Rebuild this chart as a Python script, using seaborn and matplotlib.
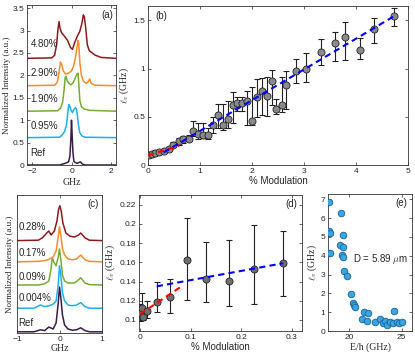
import numpy as np
import pandas as pd
import matplotlib
matplotlib.use("Agg")
import matplotlib.pyplot as plt
import seaborn as sns

# ======================================================
#   Data
# ======================================================

# (a) spectra, x in GHz
a_ref_x = [-2.25, -0.6, -0.3, -0.15, -0.08, -0.03, 0.0, 0.03, 0.07, 0.12, 0.2, 0.3, 0.45, 0.55, 0.7, 2.25]
a_ref_y = [0.0, 0.0, 0.04, 0.07, 0.2, 0.6, 1.0, 0.7, 0.3, 0.08, 0.05, 0.04, 0.07, 0.02, 0.0, 0.0]
a_095_x = [-2.25, -0.6, -0.45, -0.35, -0.25, -0.18, -0.14, -0.08, -0.02, 0.05, 0.12, 0.2, 0.25, 0.3, 0.35, 0.42, 0.55, 0.7, 2.25]
a_095_y = [0.61, 0.62, 0.68, 0.75, 0.9, 1.2, 1.35, 1.3, 1.22, 1.17, 1.24, 1.28, 1.25, 1.1, 0.9, 0.72, 0.64, 0.62, 0.61]
a_190_x = [-2.25, -0.7, -0.55, -0.45, -0.38, -0.32, -0.28, -0.22, -0.12, -0.02, 0.1, 0.2, 0.28, 0.33, 0.37, 0.42, 0.5, 0.65, 0.9, 2.25]
a_190_y = [1.2, 1.21, 1.27, 1.4, 1.65, 1.95, 1.98, 1.88, 1.82, 1.79, 1.85, 1.95, 2.03, 2.05, 1.8, 1.45, 1.3, 1.25, 1.22, 1.2]
a_290_x = [-2.25, -0.85, -0.72, -0.62, -0.56, -0.5, -0.42, -0.3, -0.15, 0.0, 0.1, 0.2, 0.27, 0.33, 0.37, 0.42, 0.5, 0.6, 0.75, 0.85, 0.92, 1.0, 1.2, 2.25]
a_290_y = [1.77, 1.78, 1.85, 2.1, 2.3, 2.25, 2.1, 2.03, 2.05, 2.1, 2.2, 2.4, 2.6, 2.78, 2.7, 2.3, 2.0, 1.87, 1.82, 1.86, 1.92, 1.82, 1.78, 1.77]
a_480_x = [-2.25, -1.0, -0.85, -0.75, -0.68, -0.63, -0.58, -0.5, -0.35, -0.2, -0.05, 0.05, 0.15, 0.3, 0.42, 0.52, 0.6, 0.65, 0.72, 0.8, 0.9, 1.05, 1.2, 1.5, 2.25]
a_480_y = [2.38, 2.39, 2.45, 2.7, 3.05, 3.2, 3.05, 2.95, 2.87, 2.78, 2.62, 2.58, 2.72, 2.88, 2.98, 3.15, 3.35, 3.3, 3.05, 2.68, 2.55, 2.5, 2.45, 2.4, 2.38]
a_labels = ["Ref", "0.95%", "1.90%", "2.90%", "4.80%"]
a_label_y = [0.26, 0.86, 1.47, 2.05, 2.7]

# (b) linewidth vs modulation
b_x = [0.02, 0.08, 0.13, 0.21, 0.30, 0.40, 0.49, 0.59, 0.68, 0.78, 0.86, 0.97, 1.06, 1.15, 1.25,
       1.35, 1.44, 1.53, 1.63, 1.72, 1.81, 1.90, 2.00, 2.09, 2.19, 2.28, 2.38, 2.46, 2.57, 2.65,
       2.84, 3.03, 3.32, 3.60, 3.79, 4.07, 4.35, 4.73]
b_y = [0.10, 0.115, 0.12, 0.13, 0.15, 0.165, 0.21, 0.245, 0.27, 0.275, 0.35, 0.32, 0.31, 0.31, 0.41,
       0.52, 0.41, 0.48, 0.62, 0.64, 0.64, 0.66, 0.46, 0.71, 0.77, 0.72, 0.87, 0.58, 0.62, 0.83,
       0.98, 1.00, 1.17, 1.27, 1.33, 1.19, 1.41, 1.55]
b_lo = [0.095, 0.11, 0.115, 0.125, 0.14, 0.155, 0.19, 0.21, 0.23, 0.25, 0.30, 0.27, 0.28, 0.27, 0.33,
        0.38, 0.36, 0.38, 0.44, 0.56, 0.56, 0.42, 0.41, 0.50, 0.52, 0.51, 0.62, 0.53, 0.55, 0.58,
        0.85, 0.86, 1.04, 1.08, 1.09, 1.10, 1.27, 1.44]
b_hi = [0.105, 0.12, 0.125, 0.14, 0.16, 0.175, 0.24, 0.28, 0.30, 0.31, 0.46, 0.44, 0.44, 0.38, 0.50,
        0.63, 0.63, 0.66, 0.76, 0.71, 0.71, 0.77, 0.81, 0.89, 0.90, 0.91, 0.99, 0.69, 0.91, 0.98,
        1.10, 1.16, 1.31, 1.38, 1.48, 1.32, 1.53, 1.63]
b_fit_blue_x = [0.3, 4.75]
b_fit_blue_y = [0.13, 1.55]
b_fit_red_x = [0.0, 0.6]
b_fit_red_y = [0.10, 0.20]

# (c) spectra at small modulation
c_ref_x = [-1, -0.6, -0.45, -0.35, -0.25, -0.15, -0.08, -0.03, 0, 0.03, 0.07, 0.12, 0.2, 0.3, 0.4, 0.5, 0.6, 0.7, 1]
c_ref_y = [0.03, 0.03, 0.08, 0.06, 0.15, 0.1, 0.25, 0.75, 1.15, 0.9, 0.45, 0.2, 0.1, 0.07, 0.08, 0.13, 0.06, 0.03, 0.03]
c_004_x = [-1, -0.6, -0.45, -0.35, -0.25, -0.15, -0.08, -0.03, 0, 0.03, 0.07, 0.12, 0.2, 0.3, 0.4, 0.5, 0.6, 0.7, 1]
c_004_y = [0.62, 0.62, 0.7, 0.66, 0.68, 0.72, 0.8, 1.2, 1.68, 1.45, 1.0, 0.8, 0.7, 0.68, 0.7, 0.76, 0.66, 0.62, 0.62]
c_009_x = [-1, -0.5, -0.35, -0.25, -0.2, -0.17, -0.12, -0.08, -0.03, 0, 0.03, 0.07, 0.12, 0.2, 0.35, 0.45, 0.5, 0.6, 0.7, 1]
c_009_y = [1.2, 1.2, 1.23, 1.3, 1.6, 1.88, 1.75, 1.68, 1.9, 2.1, 1.85, 1.45, 1.3, 1.25, 1.25, 1.33, 1.38, 1.25, 1.21, 1.2]
c_017_x = [-1, -0.5, -0.35, -0.25, -0.15, -0.08, -0.03, 0, 0.03, 0.07, 0.12, 0.2, 0.3, 0.4, 0.5, 0.6, 0.7, 1]
c_017_y = [1.78, 1.79, 1.81, 1.84, 1.9, 2.05, 2.4, 2.66, 2.45, 2.1, 1.95, 1.85, 1.83, 1.85, 1.95, 1.83, 1.79, 1.78]
c_028_x = [-1, -0.5, -0.4, -0.3, -0.25, -0.2, -0.12, -0.06, -0.02, 0.01, 0.04, 0.08, 0.15, 0.25, 0.35, 0.45, 0.5, 0.6, 0.7, 1]
c_028_y = [2.31, 2.32, 2.38, 2.5, 2.55, 2.45, 2.55, 2.8, 3.1, 3.18, 3.05, 2.75, 2.5, 2.42, 2.4, 2.45, 2.5, 2.38, 2.32, 2.31]
c_labels = ["Ref", "0.004%", "0.09%", "0.17%", "0.28%"]
c_label_y = [0.24, 0.87, 1.41, 2.0, 2.66]

# (d) zoom of (b) at small modulation
d_x = [0.000, 0.003, 0.005, 0.014, 0.034, 0.059, 0.092, 0.131, 0.175, 0.226, 0.282]
d_y = [0.107, 0.112, 0.103, 0.109, 0.119, 0.124, 0.162, 0.143, 0.141, 0.153, 0.159]
d_lo = [0.099, 0.101, 0.100, 0.102, 0.108, 0.107, 0.121, 0.119, 0.114, 0.117, 0.125]
d_hi = [0.117, 0.128, 0.110, 0.120, 0.139, 0.143, 0.206, 0.181, 0.183, 0.199, 0.193]
d_fit_blue_x = [0.033, 0.283]
d_fit_blue_y = [0.135, 0.159]
d_fit_red_x = [0.0, 0.085]
d_fit_red_y = [0.106, 0.136]

# (e) linewidth vs E/h
e_x = [18.13, 19.22, 18.13, 18.22, 19.47, 19.16, 19.44, 18.22, 19.34, 19.44, 19.53, 19.84, 20.22,
       20.41, 20.47, 20.56, 21.25, 21.47, 21.78, 21.72, 22.5, 22.97, 23.22, 23.44, 23.66, 23.91,
       24.28, 24.22, 24.53, 24.78, 25.09]
e_y = [6.88, 6.26, 5.32, 5.23, 5.11, 4.57, 4.45, 4.13, 4.04, 3.92, 3.19, 2.93, 1.97,
       1.51, 1.38, 1.26, 0.62, 1.03, 0.94, 0.53, 0.50, 0.62, 0.41, 0.53, 0.32, 0.50,
       1.08, 0.41, 0.50, 0.44, 0.50]

spec_colors = ["#3a1a48", "#1ab2ec", "#77ac30", "#f98b2a", "#8c1a1a"]

# ======================================================
#   Style
# ======================================================

sns.set_style("ticks")
plt.rcParams["font.family"] = ["Liberation Sans", "DejaVu Sans"]
plt.rcParams["mathtext.fontset"] = "cm"
plt.rcParams["axes.linewidth"] = 0.6
plt.rcParams["axes.edgecolor"] = "#333333"
for ax_ in ("x", "y"):
    plt.rcParams[f"{ax_}tick.direction"] = "in"
    plt.rcParams[f"{ax_}tick.major.size"] = 2
    plt.rcParams[f"{ax_}tick.major.width"] = 0.5
    plt.rcParams[f"{ax_}tick.labelsize"] = 6
    plt.rcParams[f"{ax_}tick.major.pad"] = 2
plt.rcParams["xtick.top"] = True
plt.rcParams["ytick.right"] = True

W, H = 415, 357
fig = plt.figure(figsize=(W / 100, H / 100), dpi=100)


def add_axes(left, right, top, bottom):
    return fig.add_axes([left / W, 1 - bottom / H, (right - left) / W, (bottom - top) / H])


ax_a = add_axes(27, 116, 5, 165)
ax_b = add_axes(148, 408, 6, 165)
ax_c = add_axes(17, 102, 195, 333)
ax_d = add_axes(139, 302, 195, 331)
ax_e = add_axes(328, 412, 194, 331)

serif = "Liberation Serif"

# ======================================================
#   (a)
# ======================================================
a_curves = [(a_ref_x, a_ref_y), (a_095_x, a_095_y), (a_190_x, a_190_y),
            (a_290_x, a_290_y), (a_480_x, a_480_y)]
for (cx, cy), col in zip(a_curves, spec_colors):
    sns.lineplot(x=cx, y=cy, color=col, lw=1.1, ax=ax_a)
for lab, ly in zip(a_labels, a_label_y):
    ax_a.text(-2.08, ly, lab, fontsize=7, va="center", ha="left")
ax_a.set_xlim(-2.25, 2.25)
ax_a.set_ylim(0, 3.57)
ax_a.set_xticks([-2, 0, 2])
ax_a.set_yticks(np.arange(0, 3.6, 0.5))
ax_a.set_yticklabels(["0", "0.5", "1", "1.5", "2", "2.5", "3", "3.5"])
ax_a.set_xlabel("GHz", family=serif, fontsize=7, labelpad=2)
ax_a.set_ylabel("Normalized Intensity (a.u.)", family=serif, fontsize=6.5, labelpad=1)
ax_a.text(0.97, 0.97, "(a)", transform=ax_a.transAxes, ha="right", va="top", fontsize=7)

# ======================================================
#   (b)
# ======================================================
df_b = pd.DataFrame({"x": b_x, "y": b_y, "lo": b_lo, "hi": b_hi})
ax_b.errorbar(df_b["x"], df_b["y"], yerr=[df_b["y"] - df_b["lo"], df_b["hi"] - df_b["y"]],
              fmt="none", ecolor="#222222", elinewidth=0.8, capsize=2.2, capthick=0.8, zorder=2)
sns.scatterplot(data=df_b, x="x", y="y", color="#8a8a8a", edgecolor="#222222", linewidth=0.6,
                s=26, ax=ax_b, zorder=3)
ax_b.plot(b_fit_red_x, b_fit_red_y, color="#ff0000", lw=1.5, dashes=(3, 2), zorder=4)
ax_b.plot(b_fit_blue_x, b_fit_blue_y, color="#0000ff", lw=1.5, dashes=(3, 2), zorder=4)
ax_b.set_xlim(0, 5)
ax_b.set_ylim(0, 1.65)
ax_b.set_xticks(range(6))
ax_b.set_yticks([0, 0.5, 1, 1.5])
ax_b.set_yticklabels(["0", "0.5", "1", "1.5"])
ax_b.set_xlabel("% Modulation", fontsize=7, labelpad=1)
ax_b.set_ylabel(r"$\ell_v$ (GHz)", family=serif, fontsize=7, labelpad=2)
ax_b.text(0.03, 0.97, "(b)", transform=ax_b.transAxes, ha="left", va="top", fontsize=7)

# ======================================================
#   (c)
# ======================================================
c_curves = [(c_ref_x, c_ref_y), (c_004_x, c_004_y), (c_009_x, c_009_y),
            (c_017_x, c_017_y), (c_028_x, c_028_y)]
for (cx, cy), col in zip(c_curves, spec_colors):
    sns.lineplot(x=cx, y=cy, color=col, lw=1.1, ax=ax_c)
for lab, ly in zip(c_labels, c_label_y):
    ax_c.text(-0.96, ly, lab, fontsize=7, va="center", ha="left")
ax_c.set_xlim(-1, 1)
ax_c.set_ylim(0, 3.45)
ax_c.set_xticks([-1, 0, 1])
ax_c.set_yticks([])
ax_c.set_xlabel("GHz", family=serif, fontsize=7, labelpad=1)
ax_c.set_ylabel("Normalized Intensity (a.u.)", family=serif, fontsize=6.5, labelpad=2)
ax_c.text(0.96, 0.97, "(c)", transform=ax_c.transAxes, ha="right", va="top", fontsize=7)

# ======================================================
#   (d)
# ======================================================
df_d = pd.DataFrame({"x": d_x, "y": d_y, "lo": d_lo, "hi": d_hi})
ax_d.errorbar(df_d["x"], df_d["y"], yerr=[df_d["y"] - df_d["lo"], df_d["hi"] - df_d["y"]],
              fmt="none", ecolor="#222222", elinewidth=0.8, capsize=2.5, capthick=0.8, zorder=2)
sns.scatterplot(data=df_d, x="x", y="y", color="#6e6e6e", edgecolor="#222222", linewidth=0.6,
                s=26, ax=ax_d, zorder=3)
ax_d.plot(d_fit_red_x, d_fit_red_y, color="#ff0000", lw=1.5, dashes=(3, 2), zorder=4)
ax_d.plot(d_fit_blue_x, d_fit_blue_y, color="#0000ff", lw=1.5, dashes=(3, 2), zorder=4)
ax_d.set_xlim(-0.002, 0.32)
ax_d.set_ylim(0.0885, 0.23)
ax_d.set_xticks([0, 0.1, 0.2, 0.3])
ax_d.set_xticklabels(["0", "0.1", "0.2", "0.3"])
ax_d.set_yticks(np.arange(0.10, 0.221, 0.02))
ax_d.set_yticklabels(["0.1", "0.12", "0.14", "0.16", "0.18", "0.2", "0.22"])
ax_d.set_xlabel("% Modulation", fontsize=7, labelpad=1)
ax_d.set_ylabel(r"$\ell_v$ (GHz)", family=serif, fontsize=7, labelpad=2)
ax_d.text(0.97, 0.97, "(d)", transform=ax_d.transAxes, ha="right", va="top", fontsize=7)

# ======================================================
#   (e)
# ======================================================
sns.scatterplot(x=e_x, y=e_y, color="#3aa6e0", edgecolor="#1f6aa5", linewidth=0.7,
                s=22, ax=ax_e, zorder=3)
ax_e.text(20.4, 3.8, r"D = 5.89 $\mu$m", fontsize=7, va="center", ha="left")
ax_e.set_xlim(18, 26)
ax_e.set_ylim(0, 7.28)
ax_e.set_xticks([20, 25])
ax_e.set_yticks(range(8))
ax_e.set_xlabel("E/h (GHz)", family=serif, fontsize=7, labelpad=1)
ax_e.set_ylabel(r"$\ell_v$ (GHz)", family=serif, fontsize=7, labelpad=1)
ax_e.text(0.94, 0.97, "(e)", transform=ax_e.transAxes, ha="right", va="top", fontsize=7)

fig.savefig("out.png", dpi=100)
